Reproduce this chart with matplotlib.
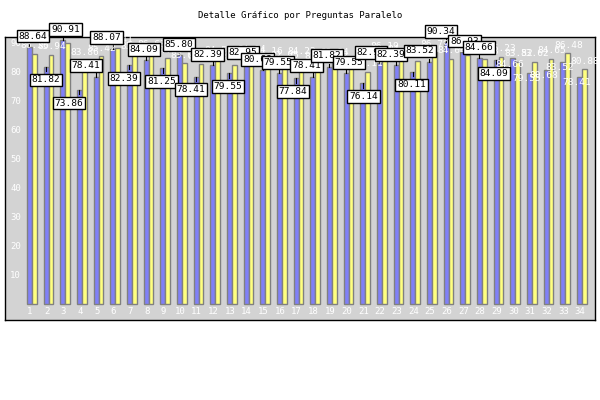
"""Detalle Grafico por Preguntas Paralelo - paired bars per question."""
import matplotlib
matplotlib.use("Agg")
from matplotlib import pyplot as plt   # noqa: E402
import numpy as np                      # noqa: E402

BLUE_C, YELLOW_C, EDGE_C, BG_C = "#8080f8", "#ffff80", "#808080", "#d3d3d3"
FONT = "DejaVu Sans Mono"

preguntas = [str(i) for i in range(1, 35)]
serie_azul = [88.64, 81.82, 90.91, 73.86, 78.41, 88.07, 82.39, 84.09, 81.25, 85.80,
              78.41, 82.39, 79.55, 82.95, 80.68, 79.55, 77.84, 78.41, 81.82, 79.55,
              76.14, 82.95, 82.39, 80.11, 83.52, 90.34, 86.93, 84.66, 84.09, 84.66,
              79.55, 80.68, 83.52, 78.41]
serie_amarilla = [86.36, 85.94, 90.15, 83.86, 85.42, 88.41, 85.93, 86.63, 84.80, 83.00,
                  82.75, 84.51, 82.41, 84.84, 84.16, 82.95, 84.22, 82.50, 83.94, 82.95,
                  80.11, 86.19, 84.88, 83.90, 86.79, 84.64, 85.86, 84.38, 85.23, 83.52,
                  83.62, 84.65, 86.48, 80.88]
y_ticks = [10, 20, 30, 40, 50, 60, 70, 80, 90]

# label placement (style only): boxed labels sit below the bar top for these groups,
# and are nudged sideways by these amounts (px) like the original's jitter
below = {2, 4, 7, 9, 11, 13, 17, 21, 24, 29}
nudge_px = [4, 0, 3, -10, -10, -6, -5, -2, -1, 0, -5, -5, -1, -3, -5, -1, -3, -6,
            -2, 3, 1, -8, -5, -1, -9, -5, 2, 0, -2]
boxed_upto = 29
px = 1 / 16.67

fig = plt.figure(figsize=(6, 4), dpi=100)
fig.patch.set_facecolor("white")
ax = fig.add_axes([5 / 600, 1 - 320 / 400, 590 / 600, 283 / 400])
ax.set_facecolor(BG_C)

x = np.arange(1, len(preguntas) + 1)
ax.bar(x - 0.18, serie_azul, width=0.3, align="edge", color=BLUE_C,
       edgecolor=EDGE_C, linewidth=1)
ax.bar(x + 0.12, serie_amarilla, width=0.27, align="edge", color=YELLOW_C,
       edgecolor=EDGE_C, linewidth=1)

ax.set_xlim(-0.5, 34.9)
ax.set_ylim(-5.5, 92.07)
ax.set_xticks([]); ax.set_yticks([])
for s in ax.spines.values():
    s.set_color("black"); s.set_linewidth(1)

for v in y_ticks:
    ax.text(0.45, v, str(v), color="white", fontsize=6.5, family=FONT,
            ha="right", va="center")
for xi, lab in zip(x, preguntas):
    ax.text(xi, -2.5, lab, color="white", fontsize=6.5, family=FONT,
            ha="center", va="center")

# yellow series: white value labels just above the bars
for xi, v in zip(x, serie_amarilla):
    ax.text(xi + 0.3, v + 1.2, f"{v:.2f}", color="white", fontsize=6.8,
            family=FONT, ha="center", va="bottom")

# blue series: boxed labels (white text for the last groups)
for i, (xi, v) in enumerate(zip(x, serie_azul)):
    k = i + 1
    if k <= boxed_upto:
        dy = -3.0 if k in below else 2.2
        va = "top" if k in below else "bottom"
        ax.plot([xi - 0.05, xi - 0.05], [v, v + dy * 0.5], color="black", lw=0.8)
        ax.text(xi - 0.05 + nudge_px[i] * px, v + dy, f"{v:.2f}", color="black",
                fontsize=6.8, family=FONT, ha="center", va=va,
                bbox=dict(boxstyle="square,pad=0.2", fc="white", ec="black", lw=1))
    else:
        ax.text(xi - 0.2, v - 3.5, f"{v:.2f}", color="white", fontsize=6.8,
                family=FONT, ha="center", va="bottom")

fig.text(0.5, 1 - 15 / 400, "Detalle Gráfico por Preguntas Paralelo", fontsize=6.5,
         family=FONT, ha="center", va="center", color="black")

fig.savefig("out.png", dpi=100)
